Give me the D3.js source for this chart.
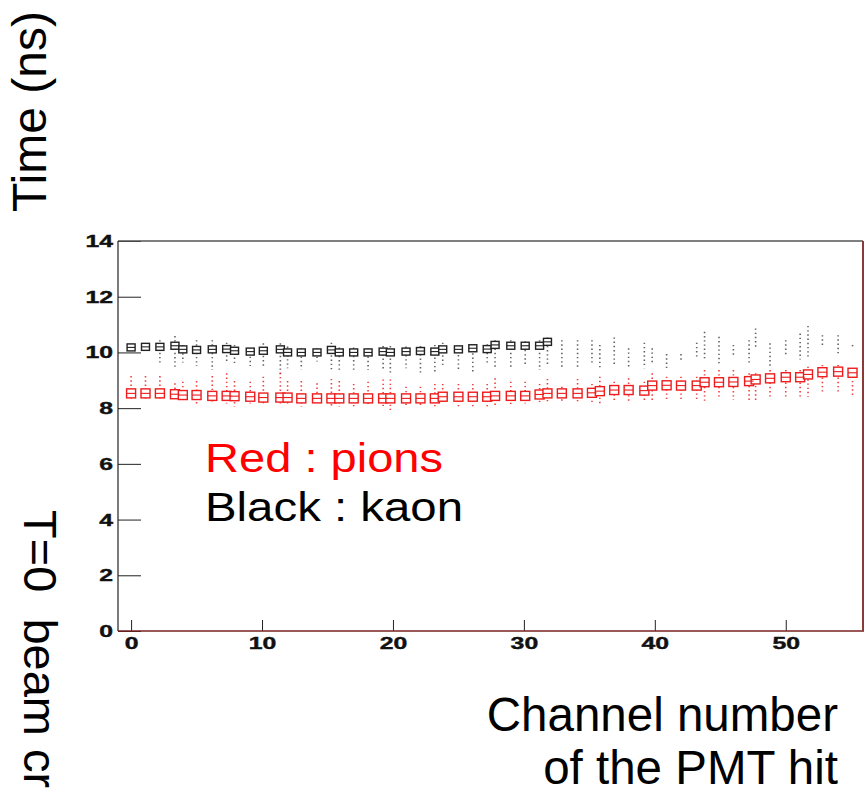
<!DOCTYPE html>
<html>
<head>
<meta charset="utf-8">
<script src="https://cdn.jsdelivr.net/npm/d3@7"></script>
<style>
  body { margin: 0; background: #fff; }
  svg { display: block; font-family: "Liberation Sans", Arial, sans-serif; }
</style>
</head>
<body>
<div id="chart"></div>
<script>
// channel positions on the x axis (56 PMT channels)
var chanPos = [0, 1.1, 2.2, 3.35, 3.95, 5.0, 6.2, 7.3, 7.9, 9.1,
    10.1, 11.4, 11.95, 13.0, 14.2, 15.3, 15.9, 17.0, 18.1, 19.25,
    19.8, 21.0, 22.1, 23.2, 23.8, 25.0, 26.1, 27.2, 27.8, 29.0,
    30.1, 31.2, 31.8, 32.9, 34.1, 35.2, 35.8, 36.9, 38.0, 39.2,
    39.8, 40.9, 42.0, 43.2, 43.8, 44.9, 46.0, 47.2, 47.7, 48.8,
    50.0, 51.1, 51.7, 52.8, 54.0, 55.1];

// pions (red): peak, highest and lowest hit time (ns)
var pionPeak = [8.53, 8.53, 8.53, 8.50, 8.47, 8.47, 8.44, 8.44, 8.43, 8.41,
    8.38, 8.38, 8.38, 8.35, 8.35, 8.35, 8.35, 8.35, 8.35, 8.35,
    8.35, 8.35, 8.35, 8.35, 8.41, 8.41, 8.41, 8.41, 8.44, 8.44,
    8.44, 8.49, 8.53, 8.53, 8.53, 8.55, 8.61, 8.65, 8.65, 8.63,
    8.81, 8.82, 8.81, 8.81, 8.93, 8.93, 8.94, 8.97, 9.03, 9.07,
    9.11, 9.11, 9.21, 9.29, 9.31, 9.27];
var pionHigh = [9.15, 9.15, 9.15, 8.89, 8.95, 8.97, 9.15, 9.25, 8.97, 8.95,
    9.13, 9.27, 8.97, 8.97, 8.89, 9.05, 8.97, 8.87, 8.95, 9.03,
    9.03, 8.77, 8.77, 8.87, 8.87, 8.87, 8.87, 8.87, 9.07, 8.95,
    8.95, 8.87, 9.05, 8.77, 9.05, 8.87, 9.13, 8.95, 9.07, 8.95,
    9.25, 9.13, 9.13, 9.13, 9.37, 9.37, 9.37, 9.25, 9.25, 9.37,
    9.37, 9.37, 9.49, 9.55, 9.55, 9.43];
var pionLow = [8.29, 8.29, 8.29, 8.35, 8.38, 8.17, 8.23, 8.17, 8.05, 8.17,
    8.17, 8.11, 8.11, 8.05, 8.23, 8.05, 8.05, 8.05, 8.11, 8.05,
    7.93, 8.05, 8.05, 8.05, 8.11, 8.07, 8.07, 8.07, 8.11, 8.11,
    8.17, 8.11, 8.17, 8.17, 8.17, 8.17, 8.17, 8.23, 8.23, 8.23,
    8.29, 8.23, 8.23, 8.23, 8.23, 8.41, 8.29, 8.23, 8.29, 8.35,
    8.41, 8.41, 8.41, 8.59, 8.53, 8.41];

// kaons (black): no clear peak after channel 32
var kaonPeak = [10.18, 10.20, 10.20, 10.24, 10.11, 10.09, 10.11, 10.12, 10.06, 10.03,
    10.06, 10.11, 10.00, 10.00, 10.00, 10.09, 10.00, 10.00, 10.00, 10.03,
    10.00, 10.03, 10.05, 10.03, 10.11, 10.11, 10.15, 10.12, 10.27, 10.24,
    10.24, 10.24, 10.38, null, null, null, null, null, null, null,
    null, null, null, null, null, null, null, null, null, null,
    null, null, null, null, null, null];
var kaonHigh = [10.30, 10.33, 10.44, 10.59, 10.27, 10.44, 10.44, 10.35, 10.27, 10.15,
    10.33, 10.33, 10.21, 10.15, 10.15, 10.35, 10.18, 10.18, 10.15, 10.23,
    10.23, 10.21, 10.23, 10.27, 10.35, 10.21, 10.27, 10.29, 10.44, 10.44,
    10.39, 10.44, 10.54, 10.44, 10.44, 10.44, 10.27, 10.54, 10.15, 10.35,
    10.15, 9.94, 9.94, 10.35, 10.74, 10.56, 10.27, 10.44, 10.86, 10.33,
    10.44, 10.68, 10.95, 10.62, 10.62, 10.27];
var kaonLow = [10.03, 10.08, 9.63, 9.49, 9.64, 9.51, 9.37, 9.67, 9.51, 9.51,
    9.43, 9.13, 9.43, 9.39, 9.67, 9.39, 9.31, 9.37, 9.37, 9.37,
    9.25, 9.43, 9.27, 9.22, 9.55, 9.39, 9.31, 9.61, 9.43, 9.39,
    9.49, 9.37, 9.49, 9.49, 9.49, 9.55, 9.43, 9.49, 9.49, 9.43,
    9.61, 9.43, 9.73, 9.85, 9.79, 9.61, 9.91, 9.61, 10.15, 9.49,
    9.85, 9.75, 9.85, 10.27, 9.97, 10.15];

var yMajor = [0, 2, 4, 6, 8, 10, 12, 14];
var yMinor = [0.5, 1, 1.5, 2.5, 3, 3.5, 4.5, 5, 5.5, 6.5, 7, 7.5, 8.5, 9, 9.5,
    10.5, 11, 11.5, 12.5, 13, 13.5];
var xMajor = [0, 10, 20, 30, 40, 50];
var xMinor = [2, 4, 6, 8, 12, 14, 16, 18, 22, 24, 26, 28, 32, 34, 36, 38,
    42, 44, 46, 48, 52, 54];

var width = 865;
var height = 794;
var plotLeft = 118, plotRight = 863, plotTop = 241, plotBottom = 631;

var svg = d3.select('#chart')
    .append('svg')
    .attr('width', width)
    .attr('height', height);

var x = d3.scaleLinear().domain([-1, 55.9]).range([plotLeft, plotRight]);
var y = d3.scaleLinear().domain([0, 14]).range([plotBottom, plotTop]);

// tick marks point inwards, like ROOT
var gy = svg.append('g').attr('transform', 'translate(' + plotLeft + ',0)');
gy.call(d3.axisLeft(y).tickValues(yMinor).tickSize(-12).tickSizeOuter(0).tickFormat(''));
gy.call(d3.axisLeft(y).tickValues(yMajor).tickSize(-23).tickSizeOuter(0).tickPadding(5));

var gx = svg.append('g').attr('transform', 'translate(0,' + plotBottom + ')');
gx.call(d3.axisBottom(x).tickValues(xMinor).tickSize(-6).tickSizeOuter(0).tickFormat(''));
gx.call(d3.axisBottom(x).tickValues(xMajor).tickSize(-11).tickSizeOuter(0).tickPadding(6));

svg.selectAll('.domain').remove();
svg.selectAll('.tick line').attr('stroke', '#222').attr('stroke-width', 1);

// wide bold tick labels
svg.selectAll('.tick text')
    .attr('font-family', '"Liberation Sans", Arial, sans-serif')
    .attr('font-weight', 'bold')
    .attr('font-size', 17)
    .attr('fill', '#111')
    .attr('stroke', '#111')
    .attr('stroke-width', 0.4)
    .attr('lengthAdjust', 'spacingAndGlyphs')
    .attr('textLength', function() { return this.textContent.length * 13.8; });

// frame
svg.append('line').attr('x1', plotLeft).attr('x2', plotRight).attr('y1', plotTop).attr('y2', plotTop)
    .attr('stroke', '#555').attr('stroke-width', 1.5);
svg.append('line').attr('x1', plotLeft).attr('x2', plotLeft).attr('y1', plotTop).attr('y2', plotBottom)
    .attr('stroke', '#222').attr('stroke-width', 1.2);
svg.append('line').attr('x1', plotLeft).attr('x2', plotRight + 1).attr('y1', plotBottom).attr('y2', plotBottom)
    .attr('stroke', '#7a2020').attr('stroke-width', 1.5);
svg.append('line').attr('x1', plotRight).attr('x2', plotRight).attr('y1', plotTop).attr('y2', plotBottom)
    .attr('stroke', '#8b3a3a').attr('stroke-width', 2);

function drawSpecies(peak, high, low, color, boxW, boxH, dotOpacity) {
    var g = svg.append('g');
    // spread of hits: dotted columns
    g.selectAll('line.spread')
        .data(chanPos)
        .enter()
        .append('line')
        .attr('class', 'spread')
        .attr('x1', (d) => x(d))
        .attr('x2', (d) => x(d))
        .attr('y1', (d, i) => y(high[i]))
        .attr('y2', (d, i) => y(low[i]))
        .attr('stroke', color)
        .attr('stroke-width', 1.6)
        .attr('stroke-dasharray', '1.4,2.8')
        .attr('opacity', dotOpacity);

    var peaks = chanPos.map((d, i) => ({ pos: d, v: peak[i] })).filter((d) => d.v !== null);

    g.selectAll('rect.peak')
        .data(peaks)
        .enter()
        .append('rect')
        .attr('class', 'peak')
        .attr('x', (d) => x(d.pos) - boxW / 2)
        .attr('y', (d) => y(d.v) - boxH / 2)
        .attr('width', boxW)
        .attr('height', boxH)
        .attr('fill', 'white')
        .attr('stroke', color)
        .attr('stroke-width', 1.4);

    g.selectAll('line.mid')
        .data(peaks)
        .enter()
        .append('line')
        .attr('class', 'mid')
        .attr('x1', (d) => x(d.pos) - boxW / 2)
        .attr('x2', (d) => x(d.pos) + boxW / 2)
        .attr('y1', (d) => y(d.v))
        .attr('y2', (d) => y(d.v))
        .attr('stroke', color)
        .attr('stroke-width', 1.1);
}

drawSpecies(kaonPeak, kaonHigh, kaonLow, '#222', 8, 7, 0.7);
drawSpecies(pionPeak, pionHigh, pionLow, '#ee1c1c', 9, 9, 0.85);

// legend text inside the plot
svg.append('text').attr('x', 205).attr('y', 472)
    .attr('font-size', 41).attr('fill', '#ff0000')
    .attr('textLength', 238).attr('lengthAdjust', 'spacingAndGlyphs')
    .text('Red : pions');
svg.append('text').attr('x', 205).attr('y', 521)
    .attr('font-size', 41).attr('fill', '#000')
    .attr('textLength', 258).attr('lengthAdjust', 'spacingAndGlyphs')
    .text('Black : kaon');

// slide labels
svg.append('text')
    .attr('transform', 'translate(46,212) rotate(-90)')
    .attr('font-size', 48)
    .text('Time (ns)');

svg.append('text')
    .attr('transform', 'translate(24,510) rotate(90)')
    .attr('font-size', 47)
    .style('white-space', 'pre')
    .text('T=0  beam cr');

svg.append('text').attr('x', 838).attr('y', 731)
    .attr('text-anchor', 'end').attr('font-size', 47.5).text('Channel number');
svg.append('text').attr('x', 838).attr('y', 784)
    .attr('text-anchor', 'end').attr('font-size', 47.5).text('of the PMT hit');
</script>
</body>
</html>
